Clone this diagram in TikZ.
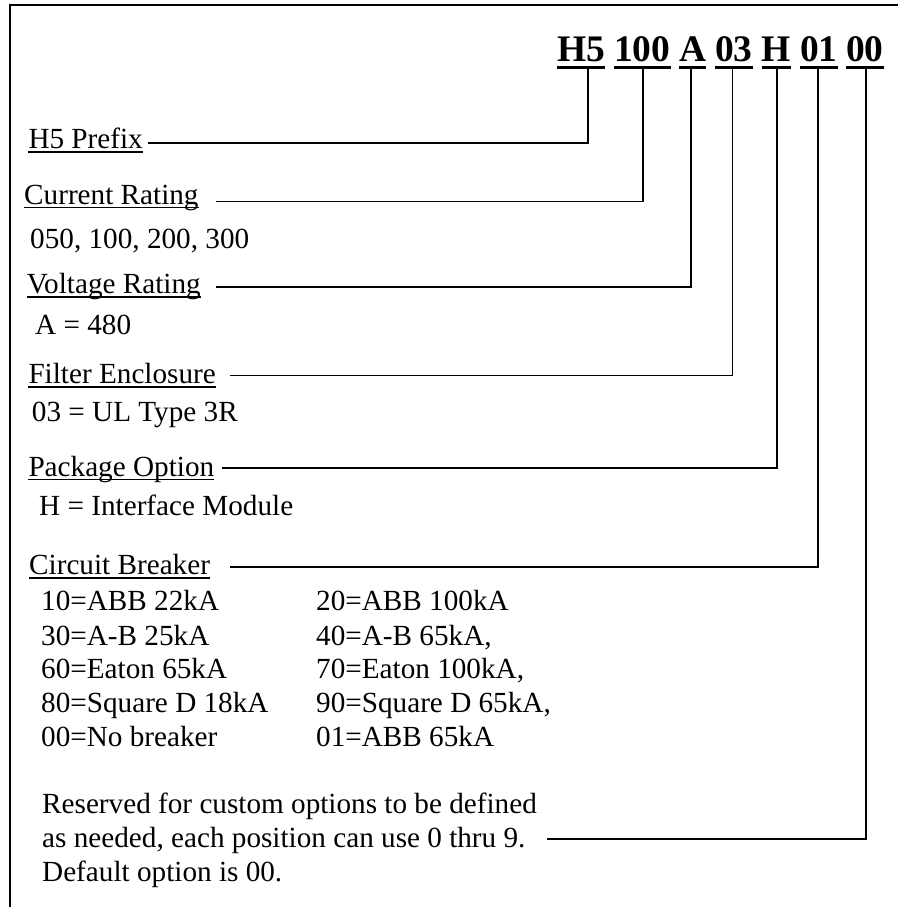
\documentclass[tikz,border=0pt]{standalone}
\usepackage{fontspec}
\setmainfont{Liberation Serif}
\begin{document}
\begin{tikzpicture}[x=1pt,y=-1pt,
  lbl/.style={anchor=base west,inner sep=0pt,font=\fontsize{29.2}{35}\selectfont},
  code/.style={anchor=base west,inner sep=0pt,font=\fontsize{37.5}{45}\selectfont\bfseries},
  conn/.style={line width=1.7pt,line join=miter},
  ul/.style={line width=1.6pt},
  cul/.style={line width=3.2pt},
  frame/.style={line width=2pt}]
\useasboundingbox (0,0) rectangle (897,907);
% frame
\draw[frame] (9.5,910) -- (9.5,5) -- (900,5);
% code
\node[code] (K1) at (557,62) {H5};
\node[code] (K2) at (614,62) {100};
\node[code] (K3) at (679,62) {A};
\node[code] (K4) at (715,62) {03};
\node[code] (K5) at (761.7,62) {H};
\node[code] (K6) at (800,62) {01};
\node[code] (K7) at (846,62) {00};
\foreach \k in {K1,K2,K3,K4,K5,K6,K7}{
  \draw[cul] ([yshift=-5.3pt]\k.base west) -- ([yshift=-5.3pt]\k.base east);
}
% labels
\node[lbl] (L1) at (28.3,148.5) {H5 Prefix};
\node[lbl] (L2) at (24,204) {Current Rating};
\node[lbl] (D2) at (30,248) {050, 100, 200, 300};
\node[lbl] (L3) at (26.7,293.3) {Voltage Rating};
\node[lbl] (D3) at (35,334) {A = 480};
\node[lbl] (L4) at (28.3,383.3) {Filter Enclosure};
\node[lbl] (D4) at (31.7,421.7) {03 = UL Type 3R};
\node[lbl] (L5) at (28.3,476) {Package Option};
\node[lbl] (D5) at (39,515) {H = Interface Module};
\node[lbl] (L6) at (29,574.3) {Circuit Breaker};
\foreach \l in {L1,L2,L3,L4,L5,L6}{
  \draw[ul] ([yshift=-3.5pt]\l.base west) -- ([yshift=-3.5pt]\l.base east);
}
% breaker table
\node[lbl] (B1) at (41,610) {10=ABB 22kA};
\node[lbl] (B2) at (316,610) {20=ABB 100kA};
\node[lbl] (B3) at (41,645) {30=A-B 25kA};
\node[lbl] (B4) at (316,645) {40=A-B 65kA,};
\node[lbl] (B5) at (41,678.5) {60=Eaton 65kA};
\node[lbl] (B6) at (316,678.5) {70=Eaton 100kA,};
\node[lbl] (B7) at (41,712) {80=Square D 18kA};
\node[lbl] (B8) at (316,712) {90=Square D 65kA,};
\node[lbl] (B9) at (41,746) {00=No breaker};
\node[lbl] (B10) at (316,746) {01=ABB 65kA};
% reserved
\node[lbl] (R1) at (42,813) {Reserved for custom options to be defined};
\node[lbl] (R2) at (42,847) {as needed, each position can use 0 thru 9.};
\node[lbl] (R3) at (42,881) {Default option is 00.};
% connector ends
\coordinate (S1) at (148,143);
\coordinate (S2) at (216,201.5);
\coordinate (S3) at (216,287.3);
\coordinate (S4) at (230,375.5);
\coordinate (S5) at (222,468);
\coordinate (S6) at (230,567);
\coordinate (S7) at (547,839);
\coordinate (T1) at (588,69);
\coordinate (T2) at (642.7,69);
\coordinate (T3) at (691,69);
\coordinate (T4) at (732.5,69);
\coordinate (T5) at (776.7,69);
\coordinate (T6) at (818.3,69);
\coordinate (T7) at (866,69);
\foreach \i in {1,...,7}{
  \draw[conn] (S\i) -| (T\i);
}
\end{tikzpicture}
\end{document}
